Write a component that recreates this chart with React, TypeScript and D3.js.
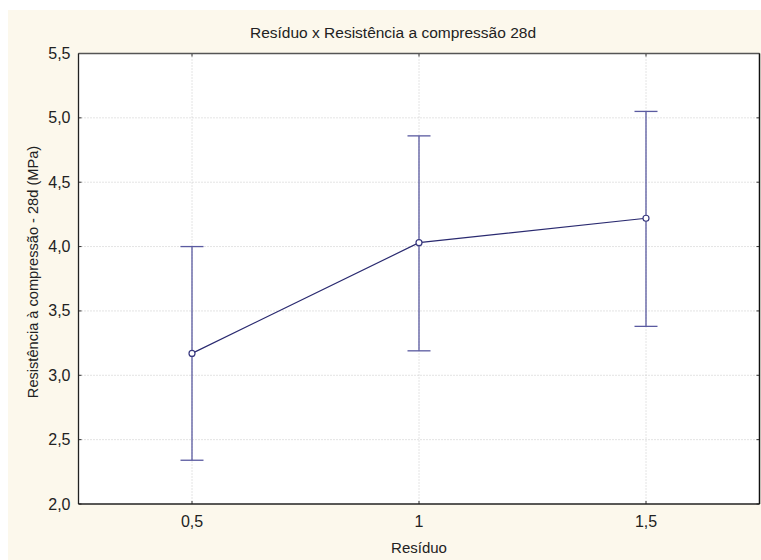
import React from "react";
import * as d3 from "d3";

const residuo = [0.5, 1, 1.5];
const means = [3.17, 4.03, 4.22];
const lower = [2.34, 3.19, 3.38];
const upper = [4.0, 4.86, 5.05];
const yTicks = [2.0, 2.5, 3.0, 3.5, 4.0, 4.5, 5.0, 5.5];
const xTicks = [0.5, 1, 1.5];

export default function App() {
  const W = 761,
    H = 560;
  const plot = { left: 78.5, right: 759.5, top: 53.5, bottom: 504 };
  const font = "'Liberation Sans', Arial, sans-serif";

  const x = d3.scaleLinear().domain([0.25, 1.75]).range([plot.left, plot.right]);
  const y = d3.scaleLinear().domain([2, 5.5]).range([plot.bottom, plot.top]);

  const line = d3
    .line<number>()
    .x((d, i) => x(residuo[i]))
    .y(d => y(d));

  const barColor = "#5a5aa0";
  const cap = 11.5;

  return (
    <svg width={W} height={H} style={{ position: "absolute", left: 0, top: 0 }}>
      <rect x={0} y={0} width={W} height={H} fill="#ffffff" />
      <rect x={8} y={10} width={W - 8} height={H - 10} fill="#fcf8ec" />
      <rect
        x={plot.left}
        y={plot.top}
        width={plot.right - plot.left}
        height={plot.bottom - plot.top}
        fill="#ffffff"
      />

      {yTicks.slice(1, -1).map((t, i) => (
        <line
          key={"gy" + i}
          x1={plot.left}
          x2={plot.right}
          y1={y(t)}
          y2={y(t)}
          stroke="#c8c8c8"
          strokeDasharray="1,2"
        />
      ))}
      {xTicks.map((t, i) => (
        <line
          key={"gx" + i}
          x1={x(t)}
          x2={x(t)}
          y1={plot.top}
          y2={plot.bottom}
          stroke="#c8c8c8"
          strokeDasharray="1,2"
        />
      ))}

      {/* ticks */}
      {yTicks.map((t, i) => (
        <g key={"ty" + i}>
          <line x1={plot.left} x2={plot.left + 3} y1={y(t)} y2={y(t)} stroke="#333" />
          <line x1={plot.right} x2={plot.right - 3} y1={y(t)} y2={y(t)} stroke="#333" />
          <text
            x={plot.left - 8}
            y={y(t)}
            textAnchor="end"
            dominantBaseline="central"
            fontFamily={font}
            fontSize={16}
            fill="#222"
          >
            {t.toFixed(1).replace(".", ",")}
          </text>
        </g>
      ))}
      {xTicks.map((t, i) => (
        <g key={"tx" + i}>
          <line x1={x(t)} x2={x(t)} y1={plot.bottom} y2={plot.bottom - 3} stroke="#333" />
          <line x1={x(t)} x2={x(t)} y1={plot.top} y2={plot.top + 3} stroke="#333" />
          <text
            x={x(t)}
            y={plot.bottom + 23}
            textAnchor="middle"
            fontFamily={font}
            fontSize={16}
            fill="#222"
          >
            {String(t).replace(".", ",")}
          </text>
        </g>
      ))}

      {/* error bars */}
      {residuo.map((r, i) => (
        <g key={"eb" + i} stroke={barColor} strokeWidth={1.3}>
          <line x1={x(r)} x2={x(r)} y1={y(lower[i])} y2={y(upper[i])} />
          <line x1={x(r) - cap} x2={x(r) + cap} y1={y(lower[i])} y2={y(lower[i])} />
          <line x1={x(r) - cap} x2={x(r) + cap} y1={y(upper[i])} y2={y(upper[i])} />
        </g>
      ))}

      <path d={line(means) || ""} fill="none" stroke="#2a2a70" strokeWidth={1.2} />
      {residuo.map((r, i) => (
        <circle
          key={"pt" + i}
          cx={x(r)}
          cy={y(means[i])}
          r={3}
          fill="#ffffff"
          stroke="#3a3a80"
          strokeWidth={1.2}
        />
      ))}

      {/* frame */}
      <line x1={plot.left} x2={plot.right} y1={plot.top} y2={plot.top} stroke="#555" strokeWidth={1.3} />
      <line x1={plot.left} x2={plot.left} y1={plot.top} y2={plot.bottom} stroke="#222" strokeWidth={1.3} />
      <line x1={plot.left} x2={plot.right} y1={plot.bottom} y2={plot.bottom} stroke="#222" strokeWidth={1.5} />
      <line x1={plot.right} x2={plot.right} y1={plot.top} y2={plot.bottom} stroke="#111" strokeWidth={1.5} />

      <text x={393} y={38} textAnchor="middle" fontFamily={font} fontSize={15.5} fill="#222">
        Resíduo x Resistência a compressão 28d
      </text>
      <text x={419} y={553} textAnchor="middle" fontFamily={font} fontSize={15} fill="#222">
        Resíduo
      </text>
      <text
        transform={`translate(38,272) rotate(-90)`}
        textAnchor="middle"
        fontFamily={font}
        fontSize={14.6}
        fill="#222"
      >
        Resistência à compressão - 28d (MPa)
      </text>
    </svg>
  );
}
